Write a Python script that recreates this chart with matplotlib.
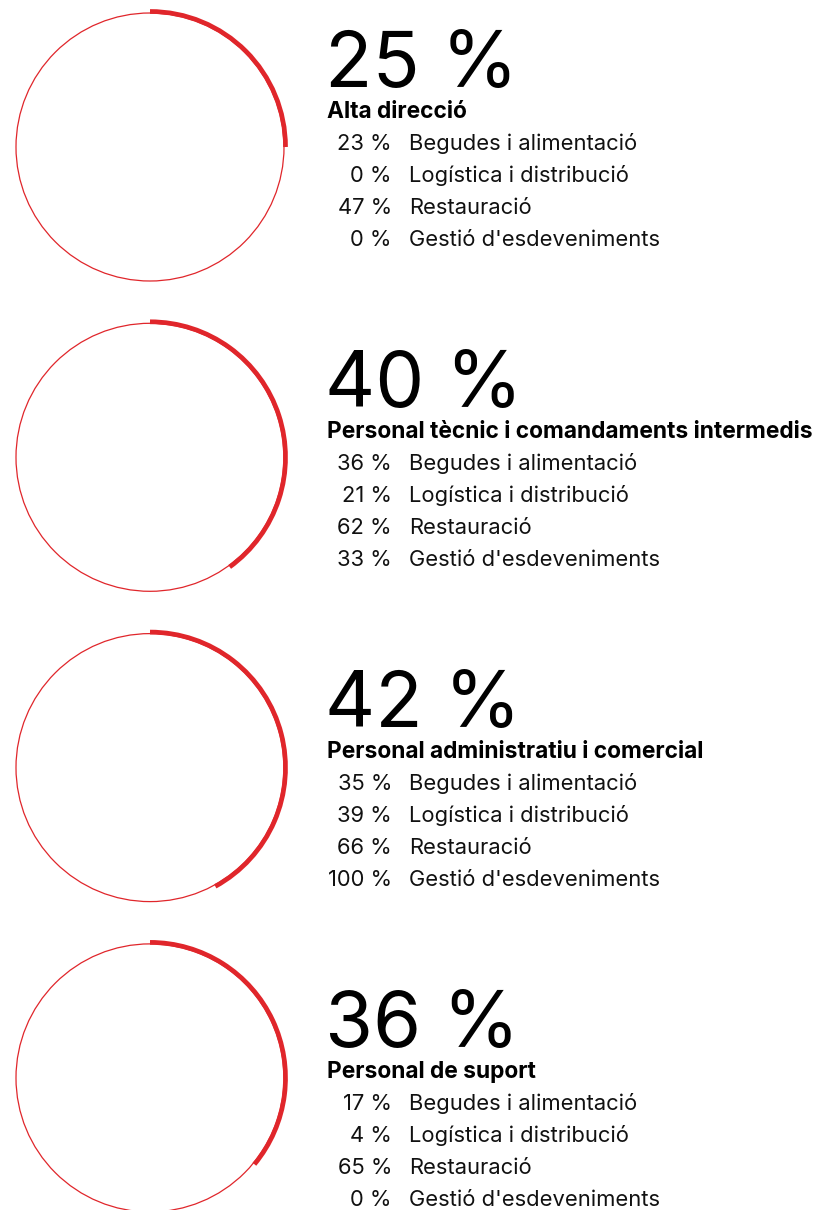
import numpy as np
import matplotlib.pyplot as plt
from matplotlib.patches import Circle, Arc

# Dades
grups = ['Alta direcció',
         'Personal tècnic i comandaments intermedis',
         'Personal administratiu i comercial',
         'Personal de suport']
total_pct = [25, 40, 42, 36]
sectors = ['Begudes i alimentació', 'Logística i distribució',
           'Restauració', "Gestió d'esdeveniments"]
pct_begudes = [23, 36, 35, 17]
pct_logistica = [0, 21, 39, 4]
pct_restauracio = [47, 62, 66, 65]
pct_gestio = [0, 33, 100, 0]

vermell = '#E0262B'
plt.rcParams['font.family'] = ['Inter', 'DejaVu Sans']

fig = plt.figure(figsize=(8.25, 12.1), dpi=100)
ax = fig.add_axes([0, 0, 1, 1])
ax.set_xlim(0, 825)
ax.set_ylim(1210, 0)
ax.set_aspect('equal')
ax.axis('off')

sub = np.array([pct_begudes, pct_logistica, pct_restauracio, pct_gestio]).T

for i, grup in enumerate(grups):
    cy = 147 + 310.3 * i
    cx = 150
    # cercle fi
    ax.add_patch(Circle((cx, cy), 134, fill=False, edgecolor=vermell, lw=0.9))
    # arc gruixut (sentit horari des de dalt)
    frac = total_pct[i] / 100
    ax.add_patch(Arc((cx, cy), 2 * 135.5, 2 * 135.5, theta1=-90,
                     theta2=-90 + 360 * frac, edgecolor=vermell, lw=3.4))

    ty = 118 + 320 * i
    ax.text(325, ty - 31, f'{total_pct[i]} %', fontsize=56, va='baseline',
            ha='left', color='black')
    ax.text(327, ty, grup, fontsize=16.4, fontweight='bold', va='baseline',
            ha='left', color='black')
    for j, s in enumerate(sectors):
        yy = ty + 32 + 32 * j
        ax.text(392, yy, f'{sub[i, j]} %', fontsize=15.8, va='baseline',
                ha='right', color='#111111')
        ax.text(409, yy, s, fontsize=15.8, va='baseline', ha='left',
                color='#111111')

plt.savefig('out.png', dpi=100)
